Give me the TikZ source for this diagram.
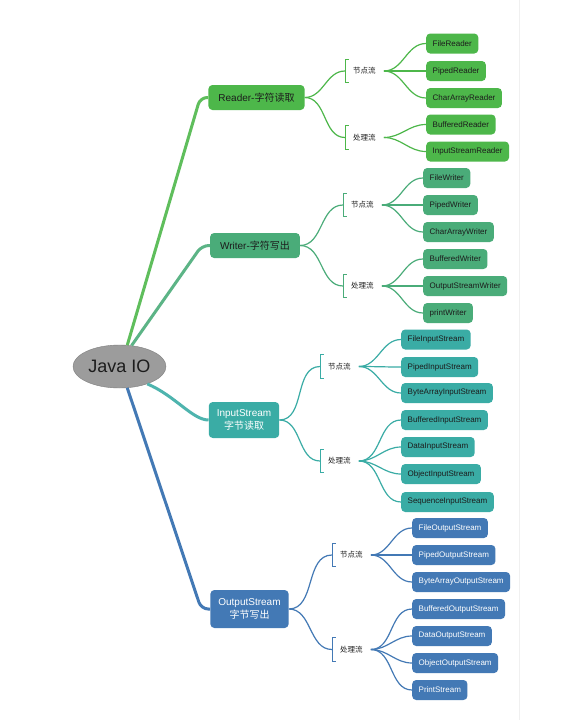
\documentclass[tikz,border=0pt]{standalone}
\usepackage{fontspec}
\setmainfont{Liberation Sans}
\newfontfamily\cjk{Noto Sans CJK SC}
\usepackage{tikz}
\usetikzlibrary{shapes.geometric}
\definecolor{jiroot}{RGB}{156,156,156}
\definecolor{jirdr}{RGB}{77,183,74}
\definecolor{jiwtr}{RGB}{74,172,121}
\definecolor{jiins}{RGB}{58,172,165}
\definecolor{jiouts}{RGB}{67,121,181}
\definecolor{jitext}{RGB}{28,28,28}
\tikzset{
  jibox/.style={
    rounded corners=4pt,
    align=center,
    inner ysep=2pt
  },
  jimain/.style={jibox, font=\fontsize{10}{13}\selectfont, inner xsep=10pt, minimum height=25pt},
  jileaf/.style={jibox, font=\fontsize{8}{9.6}\selectfont, inner xsep=6.5pt, minimum height=20pt, anchor=west},
  jisub/.style={font=\cjk\fontsize{7.5}{9}\selectfont, text=jitext, inner xsep=8pt, inner ysep=0pt, minimum height=23pt, anchor=west},
  rdrbox/.style={fill=jirdr, text=jitext},
  wtrbox/.style={fill=jiwtr, text=jitext},
  insbox/.style={fill=jiins, text=jitext},
  outsbox/.style={fill=jiouts, text=white},
  jirootline/.style={line width=3pt, rounded corners=7pt},
  jisubline/.style={line width=1.2pt},
  jibracket/.style={line width=1pt}
}
\begin{document}
\begin{tikzpicture}[x=1pt, y=-1pt]
\useasboundingbox[fill=white] (0,0) rectangle (586,720);
\draw[gray!12, line width=0.6pt] (519,0) -- (519,720);
% root and first level
\node[ellipse, fill=jiroot, draw=jiroot!80!black, line width=0.4pt, minimum width=93pt, minimum height=43pt, inner sep=0pt, text=jitext, font=\fontsize{18}{20}\selectfont] (root) at (119.5,366.5) {Java IO};
\node[jimain, rdrbox] (reader) at (256.5,97.5) {Reader-{\cjk 字符读取}};
\node[jimain, wtrbox] (writer) at (255,245.5) {Writer-{\cjk 字符写出}};
\node[jimain, fill=jiins, text=white, inner xsep=8pt, minimum height=36pt] (instream) at (244,420) {InputStream\\{\cjk 字节读取}};
\node[jimain, fill=jiouts, text=white, inner xsep=8pt, minimum height=38pt] (outstream) at (249.5,609) {OutputStream\\{\cjk 字节写出}};
% second level
\node[jisub] (rdn) at (345,71) {节点流};
\node[jisub] (rdp) at (345,137.5) {处理流};
\node[jisub] (wrn) at (343,205) {节点流};
\node[jisub] (wrp) at (343,286) {处理流};
\node[jisub] (isn) at (320,366.5) {节点流};
\node[jisub] (isp) at (320,461) {处理流};
\node[jisub] (osn) at (332,555) {节点流};
\node[jisub] (osp) at (332,649.5) {处理流};
% leaves
\node[jileaf, rdrbox] (filereader) at (426,43.5) {FileReader};
\node[jileaf, rdrbox] (pipedreader) at (426,71) {PipedReader};
\node[jileaf, rdrbox] (chararrayreader) at (426,98) {CharArrayReader};
\node[jileaf, rdrbox] (bufferedreader) at (426,124.5) {BufferedReader};
\node[jileaf, rdrbox] (isreader) at (426,151.5) {InputStreamReader};
\node[jileaf, wtrbox] (filewriter) at (423,178) {FileWriter};
\node[jileaf, wtrbox] (pipedwriter) at (423,205) {PipedWriter};
\node[jileaf, wtrbox] (chararraywriter) at (423,232) {CharArrayWriter};
\node[jileaf, wtrbox] (bufferedwriter) at (423,259) {BufferedWriter};
\node[jileaf, wtrbox] (oswriter) at (423,286) {OutputStreamWriter};
\node[jileaf, wtrbox] (printwriter) at (423,313) {printWriter};
\node[jileaf, insbox] (fileis) at (401,339.5) {FileInputStream};
\node[jileaf, insbox] (pipedis) at (401,367) {PipedInputStream};
\node[jileaf, insbox] (bytearrayis) at (401,393) {ByteArrayInputStream};
\node[jileaf, insbox] (bufferedis) at (401,420) {BufferedInputStream};
\node[jileaf, insbox] (datais) at (401,447) {DataInputStream};
\node[jileaf, insbox] (objectis) at (401,474) {ObjectInputStream};
\node[jileaf, insbox] (sequenceis) at (401,502) {SequenceInputStream};
\node[jileaf, outsbox] (fileos) at (412,528) {FileOutputStream};
\node[jileaf, outsbox] (pipedos) at (412,555) {PipedOutputStream};
\node[jileaf, outsbox] (bytearrayos) at (412,582) {ByteArrayOutputStream};
\node[jileaf, outsbox] (bufferedos) at (412,609) {BufferedOutputStream};
\node[jileaf, outsbox] (dataos) at (412,636) {DataOutputStream};
\node[jileaf, outsbox] (objectos) at (412,663) {ObjectOutputStream};
\node[jileaf, outsbox] (printstream) at (412,690) {PrintStream};
% connectors
\draw[jirootline, jirdr!90!white] (root.70) -- ([xshift=-8pt]reader.west) -- (reader.west);
\draw[jirootline, jiwtr!90!white] (root.60) -- ([xshift=-8pt]writer.west) -- (writer.west);
\draw[jirootline, jiins!90!white, rounded corners=0pt] (root.-32) .. controls +(28,12) and +(-16,0) .. (instream.west);
\draw[jirootline, jiouts] (root.-70) -- ([xshift=-9pt]outstream.west) -- (outstream.west);
\foreach \s/\m/\c in {rdn/reader/jirdr, rdp/reader/jirdr, wrn/writer/jiwtr, wrp/writer/jiwtr, isn/instream/jiins, isp/instream/jiins, osn/outstream/jiouts, osp/outstream/jiouts} {
  \draw[jisubline, \c] (\m.east) to[out=0, in=180] (\s.west);
  \draw[jibracket, \c] ([xshift=3.5pt]\s.north west) -| (\s.south west) -- ++(3.5pt,0);
}
\foreach \l in {filereader, pipedreader, chararrayreader}
  \draw[jisubline, jirdr] (rdn.east) to[out=0, in=180] (\l.west);
\foreach \l in {bufferedreader, isreader}
  \draw[jisubline, jirdr] (rdp.east) to[out=0, in=180] (\l.west);
\foreach \l in {filewriter, pipedwriter, chararraywriter}
  \draw[jisubline, jiwtr] (wrn.east) to[out=0, in=180] (\l.west);
\foreach \l in {bufferedwriter, oswriter, printwriter}
  \draw[jisubline, jiwtr] (wrp.east) to[out=0, in=180] (\l.west);
\foreach \l in {fileis, pipedis, bytearrayis}
  \draw[jisubline, jiins] (isn.east) to[out=0, in=180] (\l.west);
\foreach \l in {bufferedis, datais, objectis, sequenceis}
  \draw[jisubline, jiins] (isp.east) to[out=0, in=180] (\l.west);
\foreach \l in {fileos, pipedos, bytearrayos}
  \draw[jisubline, jiouts] (osn.east) to[out=0, in=180] (\l.west);
\foreach \l in {bufferedos, dataos, objectos, printstream}
  \draw[jisubline, jiouts] (osp.east) to[out=0, in=180] (\l.west);
\end{tikzpicture}
\end{document}
